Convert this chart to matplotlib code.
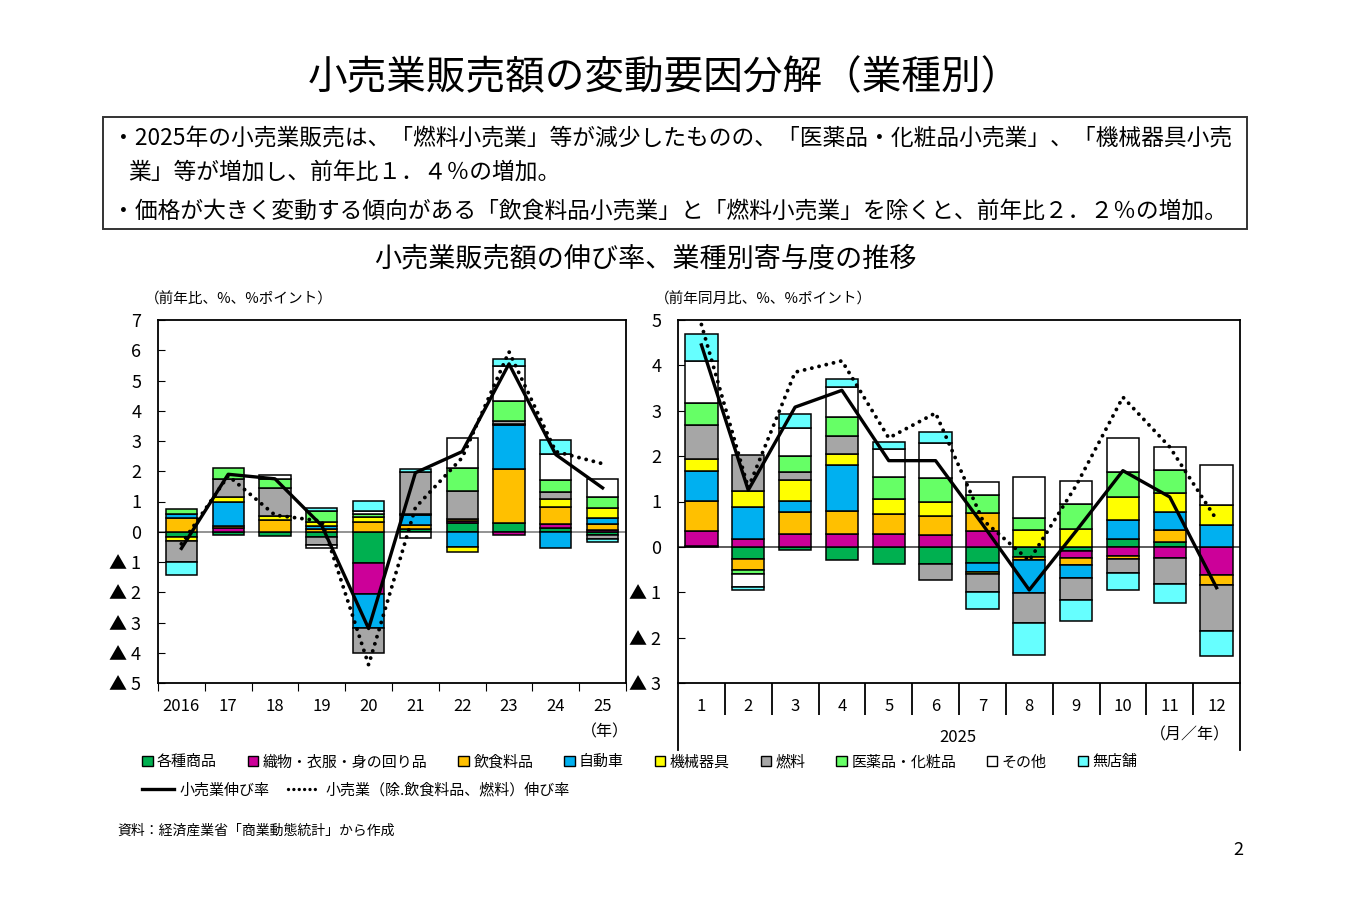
import numpy as np
import matplotlib
matplotlib.use('Agg')
import matplotlib.pyplot as plt
from matplotlib.patches import Rectangle, Patch
from matplotlib.lines import Line2D

plt.rcParams['font.family'] = ['Noto Sans CJK JP', 'DejaVu Sans']

W, H = 1350, 900

# 業種（系列順）
names = ['各種商品', '織物・衣服・身の回り品', '飲食料品', '自動車', '機械器具',
         '燃料', '医薬品・化粧品', 'その他', '無店舗']
colors = ['#00B050', '#CC0099', '#FFC000', '#00B0F0', '#FFFF00',
          '#A6A6A6', '#66FF66', '#FFFFFF', '#66FFFF']

# 年次（2016〜2025）
years = ['2016', '17', '18', '19', '20', '21', '22', '23', '24', '25']
y_kakushu = [-0.17, -0.12, -0.13, -0.18, -1.03, 0.08, 0.30, 0.30, 0.14, -0.10]
y_orimono = [0.00, 0.12, 0.00, 0.00, -1.03, 0.00, 0.04, -0.12, 0.10, 0.05]
y_inshoku = [0.44, 0.07, 0.38, 0.10, 0.33, 0.15, 0.09, 1.76, 0.57, 0.20]
y_jidosha = [0.16, 0.80, 0.00, 0.10, -1.11, 0.32, -0.50, 1.48, -0.53, 0.22]
y_kikai = [-0.12, 0.15, 0.13, 0.12, 0.17, 0.03, -0.17, 0.03, 0.28, 0.33]
y_nenryo = [-0.70, 0.62, 0.95, -0.25, -0.83, 1.38, 0.92, 0.10, 0.22, -0.15]
y_iyaku = [0.14, 0.35, 0.30, 0.35, 0.08, 0.00, 0.77, 0.66, 0.40, 0.36]
y_sonota = [0.00, 0.00, 0.10, -0.10, 0.10, -0.22, 0.99, 1.16, 0.85, 0.60]
y_mutenpo = [-0.43, 0.00, 0.00, 0.12, 0.33, 0.10, 0.00, 0.22, 0.47, -0.10]
y_total = [-0.55, 1.90, 1.75, 0.20, -3.20, 1.95, 2.65, 5.55, 2.55, 1.45]
y_exfood = [-0.40, 1.85, 0.55, 0.35, -4.40, 0.80, 2.45, 5.95, 2.65, 2.25]

# 月次（2025年1〜12月）
months = ['1', '2', '3', '4', '5', '6', '7', '8', '9', '10', '11', '12']
m_kakushu = [0.02, -0.26, -0.06, -0.30, -0.38, -0.38, -0.35, -0.22, -0.08, 0.17, 0.11, 0.00]
m_orimono = [0.32, 0.18, 0.29, 0.29, 0.29, 0.27, 0.35, 0.00, -0.17, -0.20, -0.24, -0.63]
m_inshoku = [0.68, -0.26, 0.48, 0.49, 0.44, 0.41, 0.40, -0.06, -0.16, -0.06, 0.26, -0.20]
m_jidosha = [0.65, 0.70, 0.24, 1.03, 0.00, 0.00, -0.20, -0.73, -0.28, 0.43, 0.40, 0.49]
m_kikai = [0.26, 0.35, 0.46, 0.23, 0.33, 0.32, -0.04, 0.38, 0.40, 0.49, 0.42, 0.43]
m_nenryo = [0.76, 0.79, 0.17, 0.40, 0.00, -0.35, -0.40, -0.66, -0.47, -0.32, -0.57, -1.02]
m_iyaku = [0.49, -0.08, 0.37, 0.43, 0.48, 0.51, 0.40, 0.26, 0.55, 0.55, 0.51, 0.00]
m_sonota = [0.91, -0.29, 0.60, 0.65, 0.62, 0.79, 0.29, 0.90, 0.50, 0.77, 0.50, 0.88]
m_mutenpo = [0.61, -0.05, 0.31, 0.18, 0.15, 0.24, -0.38, -0.72, -0.48, -0.38, -0.42, -0.56]
m_total = [4.45, 1.25, 3.08, 3.45, 1.90, 1.90, 0.50, -0.95, 0.35, 1.68, 1.10, -0.90]
m_exfood = [4.90, 1.30, 3.85, 4.10, 2.40, 2.95, 0.60, -0.30, 1.35, 3.30, 2.20, 0.60]

year_series = [y_kakushu, y_orimono, y_inshoku, y_jidosha, y_kikai,
               y_nenryo, y_iyaku, y_sonota, y_mutenpo]
month_series = [m_kakushu, m_orimono, m_inshoku, m_jidosha, m_kikai,
                m_nenryo, m_iyaku, m_sonota, m_mutenpo]


def fx(px):
    return px / W


def fy(py):
    return 1 - py / H


def stack_bars(ax, series, width):
    x = np.arange(len(series[0]))
    pos = np.zeros(len(x))
    neg = np.zeros(len(x))
    for vals, c in zip(series, colors):
        v = np.array(vals)
        bottom = np.where(v >= 0, pos, neg)
        m = v != 0
        ax.bar(x[m], v[m], width, bottom=bottom[m], color=c,
               edgecolor='black', linewidth=1.1, zorder=2)
        pos += np.clip(v, 0, None)
        neg += np.clip(v, None, 0)


def draw_lines(ax, total, exfood):
    x = np.arange(len(total))
    ax.plot(x, exfood, color='black', lw=2.8, linestyle=(0, (0.01, 1.9)),
            dash_capstyle='round', zorder=3)
    ax.plot(x, total, color='black', lw=2.4, zorder=4)


def ylabels(ticks):
    return [f'▲ {-t}' if t < 0 else f'{t}' for t in ticks]


fig = plt.figure(figsize=(13.5, 9), dpi=100)

# タイトルと説明
fig.text(fx(664), fy(78), '小売業販売額の変動要因分解（業種別）', fontsize=28.5,
         ha='center', va='center')
fig.add_artist(Rectangle((fx(103), fy(229)), fx(1247) - fx(103), fy(117) - fy(229),
                         transform=fig.transFigure, fill=False,
                         edgecolor='#333333', linewidth=1.4))
fig.text(fx(112), fy(138), '・2025年の小売業販売は、「燃料小売業」等が減少したものの、'
         '「医薬品・化粧品小売業」、「機械器具小売', fontsize=16.4, va='center')
fig.text(fx(128), fy(172), '業」等が増加し、前年比１．４％の増加。', fontsize=16.4, va='center')
fig.text(fx(112), fy(211), '・価格が大きく変動する傾向がある「飲食料品小売業」と'
         '「燃料小売業」を除くと、前年比２．２％の増加。', fontsize=16.4, va='center')
fig.text(fx(645), fy(259), '小売業販売額の伸び率、業種別寄与度の推移', fontsize=19.5,
         ha='center', va='center')

# 左：年次
axL = fig.add_axes([fx(158), fy(683), fx(626) - fx(158), fy(320) - fy(683)])
stack_bars(axL, year_series, 0.67)
draw_lines(axL, y_total, y_exfood)
axL.axhline(0, color='#808080', lw=1.2, zorder=1)
axL.set_xlim(-0.5, 9.5)
axL.set_ylim(-5, 7)
yt = list(range(-5, 8))
axL.set_yticks(yt)
axL.set_yticklabels(ylabels(yt), fontsize=13)
axL.tick_params(axis='y', direction='in', length=5, pad=12)
axL.set_xticks(np.arange(-0.5, 10, 1))
axL.set_xticklabels([])
axL.set_xticks(np.arange(10), minor=True)
axL.set_xticklabels(years, minor=True, fontsize=12)
axL.tick_params(axis='x', which='major', direction='out', length=6)
axL.tick_params(axis='x', which='minor', length=0, pad=11)
for s in axL.spines.values():
    s.set_linewidth(1.3)
fig.text(fx(145), fy(299), '（前年比、%、%ポイント）', fontsize=10.5, va='center')
fig.text(fx(605), fy(732), '（年）', fontsize=11.5, ha='center', va='center')

# 右：月次
axR = fig.add_axes([fx(678), fy(683), fx(1240) - fx(678), fy(320) - fy(683)])
stack_bars(axR, month_series, 0.69)
draw_lines(axR, m_total, m_exfood)
axR.axhline(0, color='#404040', lw=1.2, zorder=1)
axR.set_xlim(-0.5, 11.5)
axR.set_ylim(-3, 5)
yt = list(range(-3, 6))
axR.set_yticks(yt)
axR.set_yticklabels(ylabels(yt), fontsize=13)
axR.tick_params(axis='y', direction='in', length=5, pad=12)
axR.set_xticks(np.arange(0.5, 11, 1))
axR.set_xticklabels([])
axR.set_xticks(np.arange(12), minor=True)
axR.set_xticklabels(months, minor=True, fontsize=12)
axR.tick_params(axis='x', which='major', direction='out', length=23, width=1.3)
axR.tick_params(axis='x', which='minor', length=0, pad=11)
for s in axR.spines.values():
    s.set_linewidth(1.3)
for xa in (0, 1):
    axR.plot([xa, xa], [0, -0.185], transform=axR.transAxes, color='black',
             lw=1.3, clip_on=False)
fig.text(fx(655), fy(299), '（前年同月比、%、%ポイント）', fontsize=10.5, va='center')
fig.text(fx(958), fy(738), '2025', fontsize=12, ha='center', va='center')
fig.text(fx(1190), fy(735), '（月／年）', fontsize=11.5, ha='center', va='center')

# 凡例
handles = [Patch(facecolor=c, edgecolor='black', linewidth=1.0) for c in colors]
fig.legend(handles, names, loc='center left', bbox_to_anchor=(fx(142), fy(762)),
           ncol=9, frameon=False, fontsize=10.8, handlelength=0.7, handleheight=0.7,
           handletextpad=0.3, columnspacing=2.05, borderpad=0, borderaxespad=0)
lines = [Line2D([], [], color='black', lw=2.4),
         Line2D([], [], color='black', lw=2.4, linestyle=(0, (0.01, 1.6)),
                dash_capstyle='round')]
fig.legend(lines, ['小売業伸び率', '小売業（除.飲食料品、燃料）伸び率'], loc='center left',
           bbox_to_anchor=(fx(142), fy(790)), ncol=2, frameon=False, fontsize=10.8,
           handlelength=2.1, handletextpad=0.4, columnspacing=1.2,
           borderpad=0, borderaxespad=0)

fig.text(fx(117), fy(831), '資料：経済産業省「商業動態統計」から作成', fontsize=10, va='center')
fig.text(fx(1238), fy(850), '2', fontsize=13, ha='center', va='center')

fig.savefig('out.png', dpi=100)
